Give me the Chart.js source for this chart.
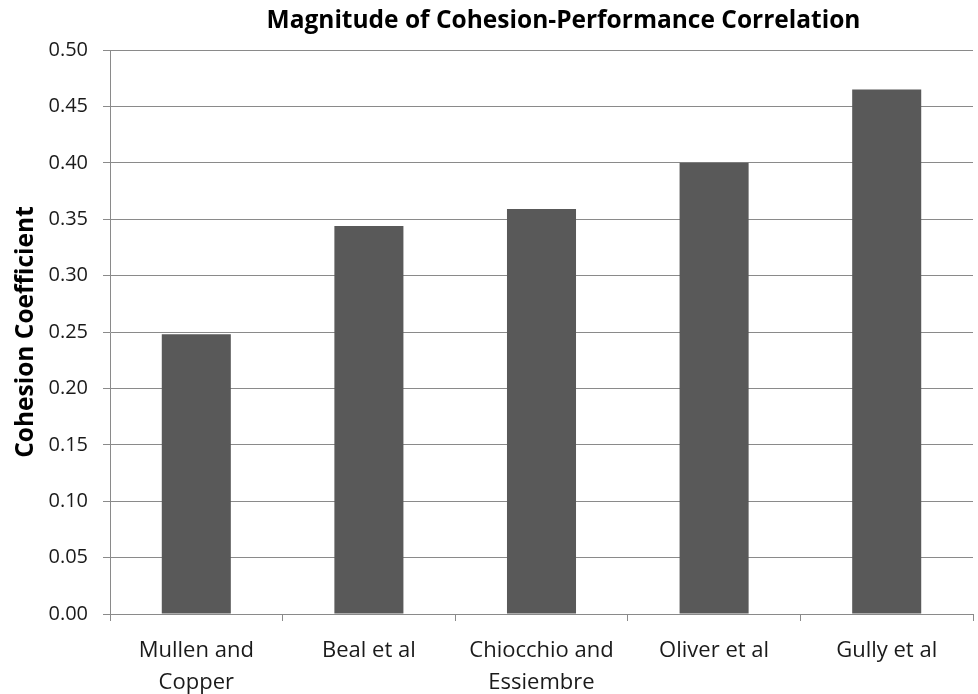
<!DOCTYPE html>
<html>
<head>
<meta charset="utf-8">
<script src="https://cdn.jsdelivr.net/npm/chart.js@4/dist/chart.umd.min.js"></script>
<style>
  body { margin: 0; background: #fff; }
  #wrap { width: 978px; height: 694px; position: relative; }
</style>
</head>
<body>
<div id="wrap"><canvas id="cohesion-chart"></canvas></div>
<script>
// chart data
const studies = [['Mullen and', 'Copper'], 'Beal et al', ['Chiocchio and', 'Essiembre'], 'Oliver et al', 'Gully et al'];
const coefficients = [0.248, 0.344, 0.359, 0.400, 0.465];
const yTicks = [0.00, 0.05, 0.10, 0.15, 0.20, 0.25, 0.30, 0.35, 0.40, 0.45, 0.50];

const chartTitle = 'Magnitude of Cohesion-Performance Correlation';
const axisGrey = '#8a8a8a';
const textColor = '#1a1a1a';

// draws the chart title a little right of the plot centre, like the original
const titlePlugin = {
    id: 'titlePlugin',
    afterDraw(chart) {
        const { ctx, chartArea } = chart;
        ctx.save();
        ctx.font = 'bold 24.5px "Open Sans"';
        ctx.fillStyle = '#000';
        ctx.textAlign = 'center';
        ctx.textBaseline = 'middle';
        ctx.fillText(chartTitle, (chartArea.left + chartArea.right) / 2 + 22, 21);
        ctx.restore();
    }
};

const ctx = document.getElementById('cohesion-chart').getContext('2d');

new Chart(ctx, {
    type: 'bar',
    data: {
        labels: studies,
        datasets: [{
            label: 'Cohesion Coefficient',
            data: coefficients,
            backgroundColor: '#595959',
            borderWidth: 0,
            barPercentage: 0.4,
            categoryPercentage: 1.0
        }]
    },
    options: {
        responsive: true,
        maintainAspectRatio: false,
        animation: false,
        layout: {
            padding: { top: 50, right: 5, left: 0, bottom: 0 }
        },
        plugins: {
            legend: { display: false },
            tooltip: { enabled: false }
        },
        scales: {
            x: {
                grid: {
                    offset: true,
                    drawOnChartArea: false,
                    drawTicks: true,
                    tickLength: 7,
                    color: axisGrey
                },
                border: { color: axisGrey },
                ticks: {
                    color: textColor,
                    font: { family: 'Open Sans', size: 22, lineHeight: 1.45 },
                    padding: 14,
                    maxRotation: 0,
                    autoSkip: false
                },
                afterFit(scale) { scale.height = 80; }
            },
            y: {
                min: 0,
                max: 0.5,
                afterBuildTicks(scale) {
                    scale.ticks = yTicks.map(v => ({ value: v }));
                },
                grid: {
                    color: axisGrey,
                    tickLength: 7
                },
                border: { color: axisGrey },
                ticks: {
                    color: textColor,
                    font: { family: 'Open Sans', size: 20 },
                    padding: 15,
                    callback: (v) => Number(v).toFixed(2)
                },
                title: {
                    display: true,
                    text: 'Cohesion Coefficient',
                    color: '#000',
                    font: { family: 'Open Sans', size: 24.5, weight: 'bold' },
                    padding: { top: 11, bottom: 0 }
                },
                afterFit(scale) { scale.width = 110; }
            }
        }
    },
    plugins: [titlePlugin]
});
</script>
</body>
</html>
